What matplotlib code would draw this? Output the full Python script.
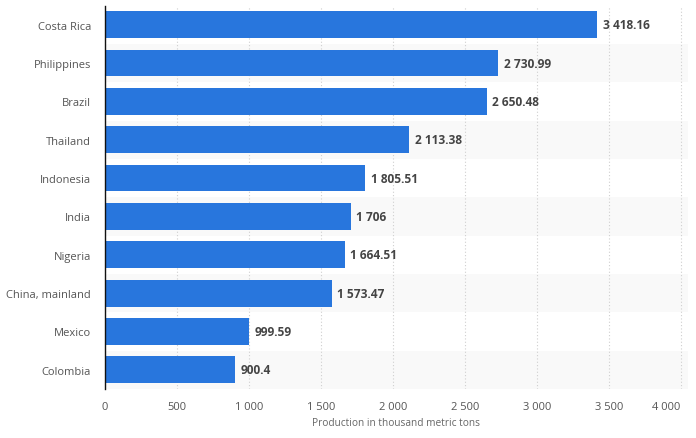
import numpy as np
import matplotlib.pyplot as plt

# Datos
paises = ['Costa Rica', 'Philippines', 'Brazil', 'Thailand', 'Indonesia',
          'India', 'Nigeria', 'China, mainland', 'Mexico', 'Colombia']
produccion = [3418.16, 2730.99, 2650.48, 2113.38, 1805.51,
              1706, 1664.51, 1573.47, 999.59, 900.4]
etiquetas = ['3 418.16', '2 730.99', '2 650.48', '2 113.38', '1 805.51',
             '1 706', '1 664.51', '1 573.47', '999.59', '900.4']
ticks_x = [0, 500, 1000, 1500, 2000, 2500, 3000, 3500, 4000]
ticks_txt = ['0', '500', '1 000', '1 500', '2 000', '2 500', '3 000', '3 500', '4 000']

plt.rcParams['font.family'] = ['Open Sans', 'DejaVu Sans']

fig = plt.figure(figsize=(6.96, 4.39), dpi=100)
ax = fig.add_axes([105 / 696, 1 - 390 / 439, 583 / 696, 383.5 / 439])

y = np.arange(len(paises))

# Bandas alternas
for i in y:
    if i % 2 == 1:
        ax.axhspan(i - 0.5, i + 0.5, color='#f9f9f9', zorder=0, lw=0)

ax.barh(y, produccion, height=0.70, color='#2876dd', zorder=3)

for i, (v, txt) in enumerate(zip(produccion, etiquetas)):
    ax.text(v + 40, i, txt, va='center', ha='left', fontsize=8.6,
            fontweight='bold', color='#444444', zorder=4)

ax.set_ylim(len(paises) - 0.5, -0.5)
ax.set_xlim(0, 4050)
ax.set_yticks(y)
ax.set_yticklabels(paises, fontsize=8, color='#555555')
ax.set_xticks(ticks_x)
ax.set_xticklabels(ticks_txt, fontsize=8, color='#555555')
ax.get_xticklabels()[-1].set_horizontalalignment('right')
ax.tick_params(axis='both', length=0)
ax.tick_params(axis='y', pad=10)
ax.tick_params(axis='x', pad=9)

ax.grid(axis='x', linestyle=(0, (1, 2)), color='#cfcfcf', linewidth=0.8, zorder=1)
for s in ['top', 'right', 'bottom']:
    ax.spines[s].set_visible(False)
ax.spines['left'].set_color('#111111')
ax.spines['left'].set_linewidth(1.0)
ax.spines['left'].set_zorder(5)

ax.set_xlabel('Production in thousand metric tons', fontsize=7.3, color='#666666', labelpad=3)

plt.savefig('out.png', dpi=100)
